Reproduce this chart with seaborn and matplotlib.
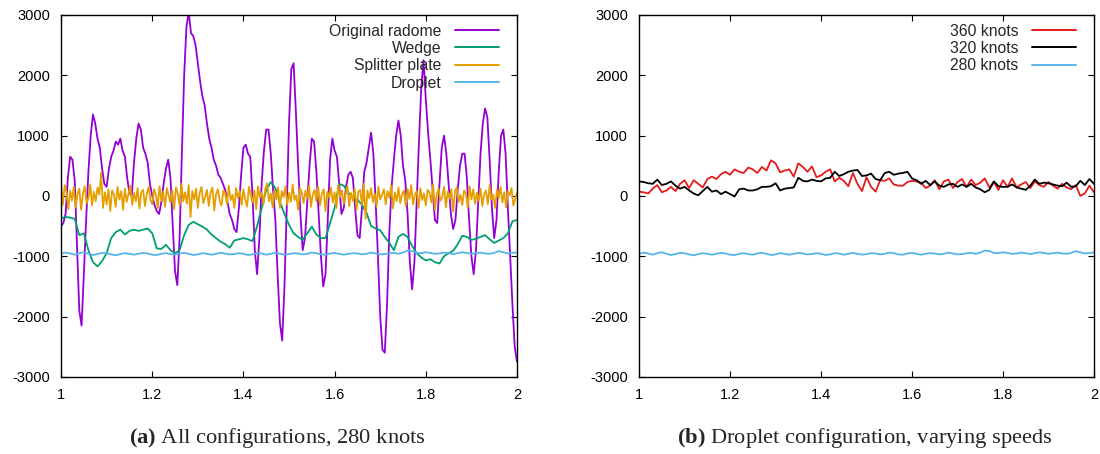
import numpy as np
import pandas as pd
import matplotlib
matplotlib.use("Agg")
import matplotlib.pyplot as plt
import seaborn as sns

# --- data --------------------------------------------------------------
# (a) all configurations, 280 knots
radome = [
    -500, -450, -300, 300, 650, 600, 250, -800, -1900, -2150,
    -1300, -400, 400, 1000, 1350, 1200, 950, 800, 450, 200,
    150, 450, 650, 750, 900, 850, 950, 750, 650, 300,
    50, 0, 550, 950, 1200, 1100, 800, 700, 550, 200,
    0, -150, -250, -300, -100, 200, 450, 600, 300, -500,
    -1250, -1480, -700, 700, 2000, 2800, 3050, 2700, 2650, 2500,
    2200, 1900, 1650, 1500, 1200, 950, 800, 600, 500, 350,
    300, 200, 100, -100, -300, -400, -550, -600, -200, 350,
    800, 850, 700, 650, 0, -900, -1300, -700, 200, 750,
    1100, 1100, 700, 100, -400, -1300, -2100, -2400, -1500, -200,
    1200, 2100, 2200, 1400, 500, -300, -900, -700, -100, 500,
    950, 900, 400, -300, -1000, -1500, -1300, -400, 600, 950,
    750, 650, 200, -300, -200, 150, 350, 400, 300, -200,
    -650, -700, -200, 400, 550, 800, 1050, 700, -100, -1000,
    -2000, -2550, -2600, -1800, -600, 150, 600, 1000, 1250, 1000,
    500, 250, -300, -1100, -1550, -1100, -100, 900, 1800, 2250,
    1600, 1050, 600, 100, -400, -450, 200, 800, 1000, 700,
    200, -300, -550, -400, 100, 500, 700, 700, 300, -400,
    -1000, -1300, -900, -100, 700, 1200, 1450, 1300, 600, -200,
    -700, -400, 400, 1000, 1100, 700, -200, -1000, -1800, -2500,
    -2750,
]
wedge = [
    -370, -350, -360, -380, -650, -620, -900, -1100, -1170, -1080,
    -950, -700, -600, -560, -640, -580, -560, -580, -560, -540,
    -620, -870, -880, -810, -900, -950, -900, -650, -480, -430,
    -470, -510, -560, -640, -700, -760, -800, -860, -740, -720,
    -700, -720, -750, -500, -200, 100, 230, 130, -100, -300,
    -480, -620, -680, -730, -620, -510, -640, -700, -700, -450,
    -200, 200, 170, 50, -20, -60, -150, -280, -500, -540,
    -570, -680, -780, -900, -680, -630, -680, -830, -950, -1020,
    -1070, -1050, -1100, -1120, -1000, -950, -910, -800, -660, -680,
    -730, -710, -680, -650, -720, -780, -740, -700, -620, -420,
    -400,
]
splitter = [
    220, -150, 180, 60, -220, 90, -80, 150, -190, 30,
    120, -230, 40, 160, -120, -40, 190, -160, 70, -90,
    140, 20, 380, -200, 60, -140, 110, -250, 90, 30,
    -180, 150, -60, 80, -230, 120, -100, 40, 170, -150,
    50, -90, 130, -210, 60, 100, -170, 30, 150, -60,
    -140, 110, 20, -200, 160, -80, 70, -180, 130, 0,
    -110, 90, -220, 140, 40, -160, 200, -90, 60, -130,
    180, -350, 80, -60, 120, -200, 50, 150, -120, -20,
    100, -170, 60, 140, -240, 30, 110, -90, -160, 90,
    40, -130, 170, -70, 20, -200, 130, -40, 80, -150,
    110, -60, -180, 150, 20, -110, 90, -220, 160, -30,
    60, -140, 120, 210, -90, 40, -190, 100, -60, 140,
    -200, 80, -20, 160, -150, 50, -100, 190, -70, 10,
    -230, 130, 60, -120, 90, -40, 170, -180, 20, 100,
    -90, 150, -160, 40, 110, -250, 70, -30, 140, -110,
    60, -200, 180, -20, 90, -130, 30, 160, -170, 50,
    -80, 120, -230, 70, 100, -150, 200, -380, 90, -40,
    130, -100, 40, -180, 150, -60, 20, 110, -140, 80,
    -30, 170, -210, 60, -90, 140, -120, 30, 90, -170,
    110, -50, 180, -140, 20, 80, -200, 130, -70, 40,
    -160, 100, 60, -110, 190, -230, 30, 120, -80, -20,
    150, -190, 70, -40, 110, -260, 80, 140, -100, 20,
    -150, 90, 40, -200, 160, -60, 110, -130, 50, -80,
    120, -170, 30, 90, -140, 180, -60, 20, -200, 100,
    -40, 150, -110, 60, -190, 80, 10, 130, -160, -50,
    60,
]
droplet_280 = [
    -960, -940, -955, -975, -950, -935, -960, -980, -965, -945,
    -950, -970, -985, -965, -950, -960, -975, -960, -945, -955,
    -975, -980, -960, -950, -965, -975, -955, -945, -960, -980,
    -970, -950, -960, -975, -960, -945, -955, -970, -965, -950,
    -960, -980, -970, -950, -955, -975, -960, -945, -960, -975,
    -965, -950, -955, -970, -960, -940, -950, -970, -975, -955,
    -945, -960, -975, -960, -950, -955, -970, -960, -940, -955,
    -970, -965, -950, -945, -960, -940, -905, -915, -945, -950,
    -935, -945, -960, -955, -940, -950, -965, -950, -935, -945,
    -960, -950, -940, -955, -960, -945, -915, -935, -955, -945,
    -940,
]

# (b) droplet configuration, varying speeds
droplet_360 = [
    70, 60, 40, 120, 180, 60, 90, 150, 80, 200,
    260, 130, 260, 200, 140, 280, 320, 280, 360, 400,
    350, 440, 400, 380, 470, 440, 380, 480, 420, 590,
    540, 390, 420, 440, 320, 540, 480, 400, 490, 310,
    340, 400, 440, 240, 300, 250, 160, 380, 200, 80,
    310, 150, 70, 260, 250, 290, 190, 170, 170, 230,
    250, 240, 220, 130, 170, 260, 110, 240, 270, 130,
    230, 280, 150, 270, 180, 220, 290, 140, 230, 100,
    260, 150, 290, 140, 190, 230, 130, 240, 180, 150,
    230, 170, 120, 200, 140, 110, 180, 0, 40, 170,
    60,
]
droplet_320 = [
    240, 230, 210, 200, 270, 180, 200, 240, 170, 120,
    150, 90, 40, 10, 80, 150, 70, 90, 30, 70,
    30, -10, 110, 120, 90, 90, 110, 150, 150, 160,
    210, 90, 120, 130, 140, 300, 250, 240, 270, 250,
    240, 290, 300, 400, 330, 360, 400, 420, 430, 330,
    340, 370, 280, 260, 380, 400, 350, 370, 380, 400,
    290, 260, 200, 250, 180, 240, 170, 150, 190, 200,
    150, 190, 150, 200, 140, 110, 60, 100, 240, 160,
    150, 150, 190, 140, 120, 100, 170, 270, 200, 220,
    210, 190, 170, 160, 220, 150, 160, 250, 180, 280,
    200,
]

left_series = [("Original radome", radome, "#9400D3"),
               ("Wedge", wedge, "#009E73"),
               ("Splitter plate", splitter, "#E69F00"),
               ("Droplet", droplet_280, "#56B4E9")]
right_series = [("360 knots", droplet_360, "#E41A1C"),
                ("320 knots", droplet_320, "#000000"),
                ("280 knots", droplet_280, "#56B4E9")]

yticks = [3000, 2000, 1000, 0, -1000, -2000, -3000]
xticks = [1, 1.2, 1.4, 1.6, 1.8, 2]
xlabels = ["1", "1.2", "1.4", "1.6", "1.8", "2"]

sns.set_style("ticks")
plt.rcParams["font.family"] = ["Liberation Sans", "DejaVu Sans"]
plt.rcParams["axes.unicode_minus"] = False
plt.rcParams["mathtext.fontset"] = "custom"
plt.rcParams["mathtext.rm"] = "Liberation Serif"
plt.rcParams["mathtext.bf"] = "Liberation Serif:bold"

fig = plt.figure(figsize=(11, 4.54), dpi=100)
ax1 = fig.add_axes([0.0555, 0.170, 0.4145, 0.797])
ax2 = fig.add_axes([0.581, 0.170, 0.4135, 0.797])


def draw(ax, series):
    for name, vals, col in series:
        df = pd.DataFrame({"t": np.linspace(1, 2, len(vals)), "p": vals})
        sns.lineplot(data=df, x="t", y="p", ax=ax, color=col, lw=1.3,
                     label=name, estimator=None)
    ax.set_xlim(1, 2)
    ax.set_ylim(-3000, 3000)
    ax.set_xticks(xticks)
    ax.set_xticklabels(xlabels)
    ax.set_yticks(yticks)
    ax.set_yticklabels([str(v) for v in yticks])
    ax.set_xlabel("")
    ax.set_ylabel("")
    ax.tick_params(direction="in", top=True, right=True, length=4,
                   width=0.8, labelsize=10.5, pad=8, colors="black")
    for s in ax.spines.values():
        s.set_visible(True)
        s.set_linewidth(1.0)
        s.set_color("black")
    leg = ax.legend(loc="upper right", markerfirst=False, frameon=False,
                    fontsize=11.3, handlelength=2.8, labelspacing=0.15,
                    borderaxespad=0.15, handletextpad=0.9,
                    bbox_to_anchor=(0.98, 1.0))
    for line in leg.get_lines():
        line.set_linewidth(1.4)


draw(ax1, left_series)
draw(ax2, right_series)

fig.text(0.252, 0.025, r"$\mathbf{(a)}$ All configurations, 280 knots",
         ha="center", fontsize=16.2, family="Liberation Serif")
fig.text(0.786, 0.025, r"$\mathbf{(b)}$ Droplet configuration, varying speeds",
         ha="center", fontsize=16.2, family="Liberation Serif")

fig.savefig("out.png", dpi=100)
